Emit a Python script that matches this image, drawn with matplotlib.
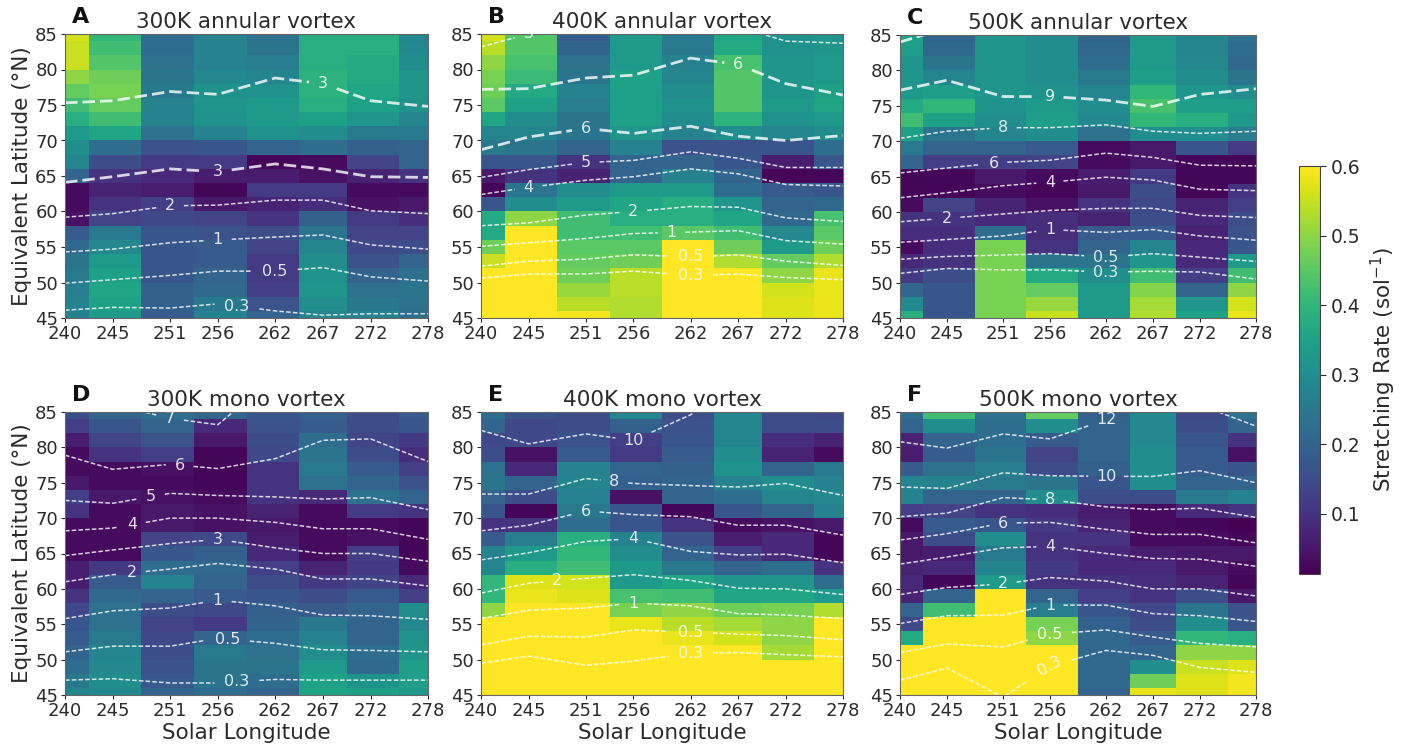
import matplotlib
matplotlib.use("Agg")
import matplotlib.pyplot as plt
import numpy as np

lon = [240, 245, 251, 256, 262, 267, 272, 278]
lat = list(range(45, 86, 2))
lat_ticks = [45, 50, 55, 60, 65, 70, 75, 80, 85]
cbar_ticks = [0.1, 0.2, 0.3, 0.4, 0.5, 0.6]

# every inner list is one longitude, going from 45N up to 85N
rate_a = [
    [.27,.27,.26,.25,.24,.21,.18,.04,.03,.03,.20,.28,.30,.33,.38,.42,.46,.50,.55,.55,.56],
    [.33,.35,.36,.35,.33,.29,.25,.13,.10,.07,.10,.15,.22,.36,.42,.46,.48,.47,.44,.42,.40],
    [.18,.19,.19,.17,.17,.17,.17,.14,.12,.06,.08,.11,.16,.23,.27,.27,.25,.24,.23,.22,.22],
    [.27,.25,.21,.20,.18,.18,.16,.13,.05,.02,.06,.11,.17,.27,.31,.32,.31,.29,.27,.27,.27],
    [.20,.16,.12,.11,.11,.13,.15,.10,.07,.11,.06,.02,.20,.31,.33,.33,.31,.28,.26,.24,.23],
    [.28,.30,.32,.31,.30,.28,.24,.19,.09,.11,.04,.03,.22,.30,.35,.38,.39,.39,.38,.38,.38],
    [.27,.25,.23,.20,.16,.14,.13,.11,.04,.03,.07,.13,.19,.25,.32,.35,.36,.37,.37,.38,.38],
    [.22,.23,.24,.23,.20,.15,.13,.09,.05,.03,.10,.20,.20,.25,.28,.31,.32,.32,.30,.29,.28],
]
rate_b = [
    [.60,.60,.60,.60,.55,.47,.37,.37,.17,.02,.05,.17,.25,.28,.36,.45,.47,.48,.50,.54,.56],
    [.60,.60,.60,.60,.60,.60,.60,.50,.30,.24,.10,.17,.24,.28,.30,.35,.37,.41,.43,.44,.44],
    [.59,.54,.51,.47,.46,.45,.42,.42,.33,.30,.07,.10,.20,.24,.24,.26,.27,.24,.23,.20,.18],
    [.53,.53,.54,.54,.47,.45,.42,.38,.36,.33,.20,.20,.27,.32,.35,.35,.35,.35,.33,.33,.33],
    [.60,.60,.60,.60,.60,.60,.45,.38,.38,.33,.27,.20,.16,.27,.30,.31,.30,.28,.27,.25,.25],
    [.60,.60,.60,.60,.53,.47,.42,.36,.32,.22,.20,.17,.16,.30,.39,.44,.44,.44,.43,.37,.36],
    [.57,.57,.56,.50,.46,.33,.29,.21,.20,.18,.02,.06,.17,.28,.31,.33,.32,.32,.32,.31,.31],
    [.58,.58,.58,.58,.53,.47,.45,.43,.21,.17,.02,.17,.22,.30,.33,.36,.35,.33,.33,.32,.32],
]
rate_c = [
    [.38,.29,.20,.11,.08,.03,.09,.10,.03,.02,.02,.20,.25,.35,.42,.37,.33,.32,.32,.34,.35],
    [.17,.17,.17,.15,.10,.09,.09,.10,.13,.02,.02,.12,.20,.24,.35,.40,.34,.28,.24,.21,.20],
    [.48,.48,.48,.48,.48,.48,.22,.08,.07,.03,.05,.12,.20,.28,.30,.31,.32,.32,.32,.32,.32],
    [.55,.51,.46,.37,.24,.10,.09,.09,.04,.02,.03,.13,.18,.30,.34,.33,.31,.30,.30,.30,.30],
    [.33,.33,.33,.30,.24,.20,.18,.07,.10,.05,.06,.03,.03,.23,.29,.30,.28,.25,.22,.21,.20],
    [.53,.52,.49,.42,.32,.28,.18,.15,.14,.15,.11,.05,.05,.30,.40,.43,.40,.34,.33,.33,.33],
    [.35,.32,.20,.12,.08,.08,.07,.08,.07,.02,.02,.02,.17,.30,.38,.34,.32,.30,.29,.28,.28],
    [.58,.56,.50,.42,.33,.17,.16,.15,.12,.10,.02,.02,.11,.26,.33,.34,.30,.24,.21,.22,.23],
]
rate_d = [
    [.28,.25,.22,.20,.18,.17,.14,.10,.06,.06,.03,.03,.03,.10,.12,.05,.03,.03,.06,.12,.15],
    [.29,.30,.29,.28,.25,.23,.23,.21,.18,.11,.03,.03,.03,.03,.05,.03,.03,.10,.13,.17,.20],
    [.20,.18,.16,.15,.14,.13,.15,.20,.27,.22,.17,.13,.05,.05,.04,.03,.04,.12,.16,.20,.22],
    [.22,.24,.24,.25,.20,.11,.14,.18,.20,.21,.19,.14,.04,.04,.03,.02,.02,.02,.05,.08,.20],
    [.20,.22,.24,.23,.22,.20,.19,.17,.15,.12,.08,.06,.05,.07,.10,.10,.10,.14,.15,.16,.17],
    [.36,.35,.33,.30,.27,.25,.18,.15,.11,.07,.03,.03,.03,.03,.08,.23,.25,.24,.22,.18,.19],
    [.35,.31,.21,.22,.20,.20,.20,.18,.13,.11,.12,.04,.03,.11,.23,.20,.18,.15,.13,.15,.15],
    [.33,.34,.34,.32,.31,.29,.30,.12,.08,.03,.02,.02,.02,.10,.20,.16,.12,.09,.11,.17,.18],
]
rate_e = [
    [.60,.60,.60,.60,.60,.60,.50,.40,.40,.28,.27,.18,.10,.17,.20,.24,.23,.15,.14,.20,.22],
    [.60,.60,.60,.60,.60,.60,.60,.58,.57,.38,.33,.26,.10,.02,.15,.20,.08,.04,.14,.14,.16],
    [.60,.60,.60,.60,.60,.60,.60,.57,.56,.42,.40,.38,.22,.25,.27,.28,.27,.18,.16,.15,.15],
    [.60,.60,.60,.60,.60,.58,.48,.43,.33,.33,.30,.27,.17,.17,.04,.19,.20,.11,.12,.19,.28],
    [.60,.60,.60,.60,.58,.54,.50,.42,.36,.25,.20,.16,.10,.02,.20,.20,.19,.18,.17,.16,.15],
    [.60,.60,.60,.60,.56,.52,.47,.36,.32,.20,.12,.06,.03,.17,.22,.27,.31,.30,.28,.28,.28],
    [.60,.60,.60,.52,.50,.50,.48,.36,.32,.22,.08,.08,.04,.20,.28,.30,.20,.07,.09,.15,.15],
    [.60,.60,.60,.60,.60,.60,.53,.33,.22,.10,.02,.02,.05,.27,.29,.27,.25,.03,.07,.15,.14],
]
rate_f = [
    [.60,.60,.60,.60,.37,.14,.20,.07,.08,.07,.05,.05,.03,.12,.27,.28,.18,.06,.07,.20,.22],
    [.60,.60,.60,.60,.60,.60,.42,.20,.02,.08,.06,.15,.18,.13,.20,.27,.23,.18,.20,.30,.42],
    [.60,.60,.60,.60,.60,.60,.60,.60,.33,.28,.25,.30,.17,.10,.20,.25,.26,.24,.22,.22,.23],
    [.60,.60,.60,.60,.50,.48,.26,.20,.10,.11,.10,.10,.11,.09,.30,.24,.15,.13,.18,.30,.46],
    [.20,.21,.21,.21,.21,.19,.17,.12,.10,.08,.08,.10,.07,.06,.15,.17,.19,.20,.20,.20,.19],
    [.58,.47,.30,.20,.18,.15,.14,.10,.09,.08,.06,.03,.03,.03,.15,.30,.30,.30,.29,.29,.29],
    [.57,.57,.55,.50,.40,.30,.24,.15,.07,.05,.05,.03,.02,.08,.25,.20,.18,.18,.17,.15,.14],
    [.59,.59,.57,.50,.38,.17,.16,.05,.02,.03,.05,.02,.01,.10,.27,.20,.17,.04,.10,.20,.23],
]

# contour lines, latitude of each line at the 8 longitudes
levels_a = ["0.3", "0.5", "1", "2", "3", "3"]
lines_a = [
    [46.1, 46.5, 46.4, 47.0, 46.0, 45.4, 45.6, 45.6],
    [49.9, 50.4, 51.0, 51.6, 51.6, 52.1, 50.8, 50.2],
    [54.3, 54.7, 55.6, 56.0, 56.4, 56.7, 55.3, 54.7],
    [59.2, 59.7, 60.8, 60.9, 61.6, 61.6, 60.1, 59.7],
    [64.1, 64.9, 66.0, 65.6, 66.7, 66.0, 64.9, 64.8],
    [75.3, 75.6, 76.9, 76.5, 78.8, 78.0, 75.6, 74.8],
]
label_lon_a = [258, 262, 256, 251, 256, 267]
thick_a = [4, 5]

levels_b = ["0.3", "0.5", "1", "2", "4", "5", "6", "6", "5"]
lines_b = [
    [50.6, 51.2, 51.2, 51.6, 51.0, 51.2, 50.7, 50.4],
    [52.3, 53.0, 53.3, 53.9, 53.6, 53.9, 53.0, 52.4],
    [55.1, 55.6, 56.2, 56.9, 57.1, 57.3, 55.9, 55.4],
    [58.0, 58.4, 59.5, 60.0, 60.7, 60.6, 59.1, 58.6],
    [62.4, 63.4, 64.4, 64.9, 66.0, 65.3, 63.8, 63.6],
    [64.8, 65.9, 66.9, 67.2, 68.4, 67.5, 66.2, 66.2],
    [68.7, 70.5, 71.7, 71.0, 72.0, 70.6, 70.0, 70.7],
    [77.2, 77.3, 78.8, 79.2, 81.6, 80.7, 78.0, 76.4],
    [83.2, 85.0, 87.0, 88.0, 88.0, 86.0, 84.0, 83.7],
]
label_lon_b = [262, 262, 260, 256, 245, 251, 251, 267, 245]
thick_b = [6, 7]

nan = float("nan")
levels_c = ["0.3", "0.5", "1", "2", "4", "6", "8", "9", ""]
lines_c = [
    [51.3, 52.0, 51.8, 51.8, 51.5, 51.6, 51.5, 50.5],
    [53.3, 53.7, 53.9, 54.1, 53.6, 54.1, 53.6, 53.0],
    [55.7, 56.1, 56.6, 57.5, 57.1, 57.5, 56.6, 56.0],
    [58.6, 59.1, 59.7, 60.2, 60.5, 60.5, 59.5, 59.2],
    [62.0, 62.7, 63.7, 64.2, 64.9, 64.5, 63.2, 63.0],
    [65.5, 66.2, 67.0, 67.3, 68.3, 67.7, 66.6, 66.5],
    [70.4, 71.4, 71.9, 71.9, 72.3, 71.4, 71.1, 71.4],
    [77.2, 78.6, 76.3, 76.3, 75.8, 74.9, 76.6, 77.4],
    [84.0, 86.0, nan, nan, nan, nan, nan, nan],
]
label_lon_c = [262, 262, 256, 245, 256, 250, 251, 256, None]
thick_c = [7, 8]

levels_d = ["0.3", "0.5", "1", "2", "3", "4", "5", "6", "7"]
lines_d = [
    [47.1, 47.3, 46.7, 46.7, 47.2, 47.1, 47.1, 47.1],
    [51.1, 51.9, 51.9, 53.0, 52.3, 51.4, 51.3, 51.1],
    [55.8, 56.9, 57.3, 58.4, 57.6, 56.3, 56.2, 55.7],
    [61.0, 62.0, 62.8, 63.6, 62.8, 61.4, 61.4, 60.4],
    [64.7, 65.5, 66.4, 67.0, 65.8, 65.0, 65.0, 63.9],
    [68.2, 68.6, 70.0, 70.0, 69.4, 68.5, 68.5, 67.0],
    [72.5, 72.1, 73.5, 73.2, 73.0, 72.7, 72.9, 71.2],
    [78.9, 76.9, 77.6, 77.0, 78.4, 81.0, 81.2, 78.0],
    [nan, 86.1, 84.1, 83.2, 90.0, nan, nan, nan],
]
label_lon_d = [258, 247, 256, 247, 256, 247, 249, 252, 251]
label_lon_d[1] = 257
thick_d = []

levels_e = ["0.3", "0.5", "1", "2", "4", "6", "8", "10", "10"]
lines_e = [
    [49.5, 50.5, 49.2, 49.8, 50.9, 51.0, 50.7, 50.4],
    [52.1, 53.3, 53.2, 54.2, 53.9, 53.6, 53.4, 52.8],
    [55.8, 57.0, 57.3, 58.0, 57.6, 56.5, 56.3, 55.8],
    [59.4, 60.8, 61.5, 62.0, 61.2, 60.1, 60.0, 59.2],
    [64.1, 65.1, 66.7, 67.1, 65.3, 64.8, 64.9, 63.7],
    [68.2, 69.0, 71.0, 70.5, 70.2, 69.0, 69.0, 67.6],
    [73.4, 73.4, 75.6, 74.9, 74.6, 74.4, 74.9, 73.2],
    [82.4, 80.5, 81.9, 81.0, 84.6, 90.0, nan, nan],
    [nan, nan, nan, nan, nan, nan, 87.0, 85.3],
]
label_lon_e = [262, 262, 256, 248, 256, 251, 254, 256, 276]
thick_e = []

levels_f = ["0.3", "0.5", "1", "2", "4", "6", "8", "10", "12", "12"]
lines_f = [
    [47.1, 48.8, 44.7, 49.1, 51.3, 50.6, 48.9, 48.2],
    [51.0, 52.2, 51.8, 53.6, 54.2, 53.2, 52.3, 51.8],
    [55.1, 56.2, 56.3, 57.7, 57.7, 56.5, 56.2, 55.4],
    [59.2, 60.2, 60.7, 61.6, 61.1, 60.0, 60.0, 59.0],
    [63.5, 64.5, 65.8, 66.0, 65.0, 64.3, 64.2, 63.2],
    [66.9, 67.8, 69.3, 69.4, 68.4, 67.7, 67.7, 66.5],
    [70.2, 70.7, 72.9, 72.6, 71.6, 71.2, 71.4, 70.1],
    [74.4, 74.2, 76.4, 76.0, 75.9, 75.9, 76.7, 75.0],
    [80.8, 79.9, 81.9, 81.2, 83.9, 87.0, nan, nan],
    [nan, nan, nan, nan, nan, nan, 86.0, 83.0],
]
label_lon_f = [256, 256, 256, 251, 256, 251, 256, 262, 262, None]
thick_f = []

titles = ["300K annular vortex", "400K annular vortex", "500K annular vortex",
          "300K mono vortex", "400K mono vortex", "500K mono vortex"]
letters = ["A", "B", "C", "D", "E", "F"]

W = 1413.0
H = 749.0
text_c = "#2b2b2b"


def pos(x0, x1, y0, y1):
    return [x0 / W, 1 - y1 / H, (x1 - x0) / W, (y1 - y0) / H]


boxes = [pos(65, 428, 34, 318), pos(481, 843, 34, 318), pos(900, 1256, 35, 318),
         pos(65, 428, 412, 695), pos(481, 843, 412, 695), pos(900, 1256, 412, 695)]
rates = [rate_a, rate_b, rate_c, rate_d, rate_e, rate_f]
levels = [levels_a, levels_b, levels_c, levels_d, levels_e, levels_f]
lines = [lines_a, lines_b, lines_c, lines_d, lines_e, lines_f]
label_lons = [label_lon_a, label_lon_b, label_lon_c, label_lon_d, label_lon_e, label_lon_f]
thicks = [thick_a, thick_b, thick_c, thick_d, thick_e, thick_f]

fig = plt.figure(figsize=(W / 100, H / 100), dpi=100)

for i in range(6):
    ax = fig.add_axes(boxes[i])
    z = np.array(rates[i]).T
    mesh = ax.pcolormesh(lon, lat, z, shading="nearest", cmap="viridis", vmin=0.013, vmax=0.6)
    ax.set_xlim(240, 278)
    ax.set_ylim(45, 85)
    ax.set_xticks(lon)
    ax.set_yticks(lat_ticks)
    ax.tick_params(labelsize=13, colors=text_c, length=3, pad=2)
    for s in ax.spines.values():
        s.set_color("#666666")
    ax.set_title(titles[i], fontsize=15.5, color=text_c, pad=4)
    ax.text(0.02, 1.025, letters[i], transform=ax.transAxes, fontsize=16,
            fontweight="bold", color="#111111", va="bottom")
    if i == 0 or i == 3:
        ax.set_ylabel("Equivalent Latitude (°N)", fontsize=15.5, color=text_c, labelpad=2)
    if i >= 3:
        ax.set_xlabel("Solar Longitude", fontsize=15.5, color=text_c, labelpad=2)

    # draw each contour by hand so the gap at the label sits where it does in the figure
    for j in range(len(lines[i])):
        vals = np.array(lines[i][j])
        if j in thicks[i]:
            lw = 2.0
            dash = (4.5, 1.8)
        else:
            lw = 1.1
            dash = (3, 1.4)
        style = dict(color="white", alpha=0.8, lw=lw, dashes=dash)
        x_arr = np.array(lon, dtype=float)
        lab = label_lons[i][j]
        if lab is None:
            ax.plot(x_arr, vals, **style)
            continue
        text = levels[i][j]
        gap = 1.0 + 0.45 * len(text)
        y_lab = np.interp(lab, x_arr, vals)
        left = x_arr < lab - gap
        right = x_arr > lab + gap
        xl = np.append(x_arr[left], lab - gap)
        yl = np.append(vals[left], np.interp(lab - gap, x_arr, vals))
        xr = np.insert(x_arr[right], 0, lab + gap)
        yr = np.insert(vals[right], 0, np.interp(lab + gap, x_arr, vals))
        ax.plot(xl, yl, **style)
        ax.plot(xr, yr, **style)
        rot = 30 if (i == 5 and text == "0.3") else 0
        ax.text(lab, y_lab, text, color="white", alpha=0.85, fontsize=11.5, ha="center",
                va="center", rotation=rot, clip_on=True)

cax = fig.add_axes(pos(1299, 1320, 166, 574))
cb = fig.colorbar(mesh, cax=cax)
cb.set_ticks(cbar_ticks)
cb.ax.tick_params(labelsize=13.5, colors=text_c, length=4)
cb.outline.set_edgecolor("#444444")
cb.set_label("Stretching Rate (sol$^{-1}$)", fontsize=15.5, color=text_c, labelpad=6)

fig.savefig("out.png", dpi=100)
